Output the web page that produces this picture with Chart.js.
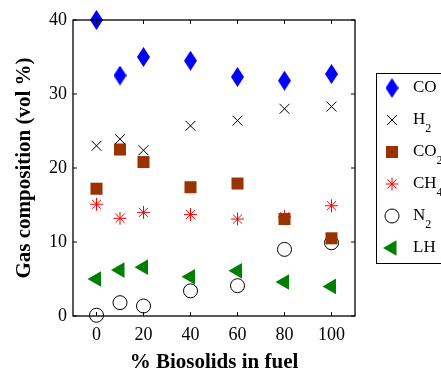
<!DOCTYPE html>
<html>
<head>
<meta charset="utf-8">
<script src="https://cdn.jsdelivr.net/npm/chart.js@4"></script>
<style>
  html, body { margin: 0; padding: 0; background: #fff; }
  #wrap { width: 441px; height: 369px; }
</style>
</head>
<body>
<div id="wrap"><canvas id="c" width="441" height="369"></canvas></div>
<script>
// biosolids share in fuel (%)
const biosolids = [0, 10, 20, 40, 60, 80, 100];
const coVals  = [40.0, 32.5, 35.0, 34.5, 32.3, 31.8, 32.7];
const h2Vals  = [23.0, 23.9, 22.4, 25.7, 26.4, 28.0, 28.3];
const co2Vals = [17.2, 22.5, 20.8, 17.4, 17.9, 13.1, 10.5];
const ch4Vals = [15.1, 13.2, 14.0, 13.7, 13.1, 13.4, 14.9];
const n2Vals  = [0.1, 1.8, 1.35, 3.4, 4.1, 9.0, 9.9];
const lhVals  = [5.0, 6.2, 6.6, 5.3, 6.1, 4.6, 4.0];
const xTicks = [0, 20, 40, 60, 80, 100];
const yTicks = [0, 10, 20, 30, 40];

const SERIF = "'Liberation Serif', 'Times New Roman', serif";

// tall blue diamond marker
function makeDiamond(w, h, color) {
  const cv = document.createElement("canvas");
  cv.width = w; cv.height = h;
  const g = cv.getContext("2d");
  g.fillStyle = color;
  g.beginPath();
  g.moveTo(w / 2, 0);
  g.lineTo(w, h / 2);
  g.lineTo(w / 2, h);
  g.lineTo(0, h / 2);
  g.closePath();
  g.fill();
  return cv;
}
const diamond = makeDiamond(13, 20, "#0000ff");

function pts(vals) {
  return vals.map((v, i) => ({ x: biosolids[i], y: v }));
}

const datasets = [
  { label: "CO", sub: "", data: pts(coVals), pointStyle: diamond, color: "#0000ff" },
  { label: "H", sub: "2", data: pts(h2Vals), pointStyle: "crossRot", pointRadius: 7,
    borderColor: "#000", backgroundColor: "#000", pointBorderWidth: 1, color: "#000" },
  { label: "CO", sub: "2", data: pts(co2Vals), pointStyle: "rect", pointRadius: 8.5,
    borderColor: "#993300", backgroundColor: "#993300", pointBorderWidth: 0, color: "#993300" },
  { label: "CH", sub: "4", data: pts(ch4Vals), pointStyle: "star", pointRadius: 6.5,
    borderColor: "#ff0000", backgroundColor: "#ff0000", pointBorderWidth: 1, color: "#ff0000" },
  { label: "N", sub: "2", data: pts(n2Vals), pointStyle: "circle", pointRadius: 7,
    borderColor: "#000", backgroundColor: "rgba(255,255,255,0)", pointBorderWidth: 1, color: "#000" },
  { label: "LH", sub: "", data: pts(lhVals), pointStyle: "triangle", pointRadius: 9, rotation: -90,
    borderColor: "#008000", backgroundColor: "#008000", pointBorderWidth: 0, color: "#008000" }
].map(d => Object.assign({ showLine: false, clip: false }, d));

// box with inward ticks on all four sides
const boxPlugin = {
  id: "box",
  afterDraw(chart) {
    const { ctx, chartArea: a, scales } = chart;
    ctx.save();
    ctx.strokeStyle = "#000";
    ctx.lineWidth = 1.3;
    ctx.strokeRect(a.left, a.top, a.right - a.left, a.bottom - a.top);
    ctx.lineWidth = 1;
    ctx.beginPath();
    xTicks.forEach(t => {
      const x = scales.x.getPixelForValue(t);
      ctx.moveTo(x, a.bottom); ctx.lineTo(x, a.bottom - 4);
      ctx.moveTo(x, a.top); ctx.lineTo(x, a.top + 4);
    });
    yTicks.forEach(t => {
      const y = scales.y.getPixelForValue(t);
      ctx.moveTo(a.left, y); ctx.lineTo(a.left + 4, y);
      ctx.moveTo(a.right, y); ctx.lineTo(a.right - 4, y);
    });
    ctx.stroke();
    ctx.restore();
  }
};

function drawMarker(ctx, ds, x, y) {
  ctx.save();
  if (ds.pointStyle instanceof HTMLCanvasElement) {
    ctx.drawImage(ds.pointStyle, x - ds.pointStyle.width / 2, y - ds.pointStyle.height / 2);
  } else if (Chart.helpers && Chart.helpers.drawPoint) {
    ctx.strokeStyle = ds.borderColor;
    ctx.fillStyle = ds.backgroundColor;
    ctx.lineWidth = ds.pointBorderWidth;
    Chart.helpers.drawPoint(ctx, {
      pointStyle: ds.pointStyle, radius: ds.pointRadius,
      rotation: ds.rotation || 0, borderWidth: ds.pointBorderWidth
    }, x, y);
  }
  ctx.restore();
}

// MATLAB style legend box on the right, partly cut by the page edge
const legendPlugin = {
  id: "sideLegend",
  afterDraw(chart) {
    const ctx = chart.ctx;
    ctx.save();
    ctx.strokeStyle = "#000";
    ctx.lineWidth = 1;
    ctx.fillStyle = "#fff";
    ctx.fillRect(376.5, 73.5, 80, 190);
    ctx.strokeRect(376.5, 73.5, 80, 190);
    chart.data.datasets.forEach((ds, i) => {
      const y = 88 + i * 32;
      drawMarker(ctx, ds, 392, y);
      ctx.fillStyle = "#000";
      ctx.textBaseline = "middle";
      ctx.font = "17px " + SERIF;
      ctx.fillText(ds.label, 413, y);
      if (ds.sub) {
        const w = ctx.measureText(ds.label).width;
        ctx.font = "12px " + SERIF;
        ctx.fillText(ds.sub, 413 + w, y + 9);
      }
    });
    ctx.restore();
  }
};

new Chart(document.getElementById("c"), {
  type: "scatter",
  data: { datasets },
  options: {
    responsive: false,
    animation: false,
    events: [],
    layout: { padding: { top: 20, right: 86, left: 0, bottom: -6 } },
    plugins: { legend: { display: false }, tooltip: { enabled: false } },
    scales: {
      x: {
        type: "linear",
        min: -10,
        max: 110,
        afterBuildTicks: s => { s.ticks = xTicks.map(v => ({ value: v })); },
        afterFit: s => { s.height = 59; },
        grid: { display: false, drawTicks: false },
        border: { display: false },
        ticks: { color: "#000", font: { family: SERIF, size: 18 }, padding: 8 },
        title: {
          display: true, text: "% Biosolids in fuel", color: "#000",
          font: { family: SERIF, size: 21, weight: "bold" }, padding: { top: 2, bottom: 0 }
        }
      },
      y: {
        min: 0,
        max: 40,
        afterBuildTicks: s => { s.ticks = yTicks.map(v => ({ value: v })); },
        afterFit: s => { s.width = 73; },
        grid: { display: false, drawTicks: false },
        border: { display: false },
        ticks: { color: "#000", font: { family: SERIF, size: 18 }, padding: 6 },
        title: {
          display: true, text: "Gas composition (vol %)", color: "#000",
          font: { family: SERIF, size: 21, weight: "bold" }, padding: { top: 12, bottom: 4 }
        }
      }
    }
  },
  plugins: [boxPlugin, legendPlugin]
});
</script>
</body>
</html>
